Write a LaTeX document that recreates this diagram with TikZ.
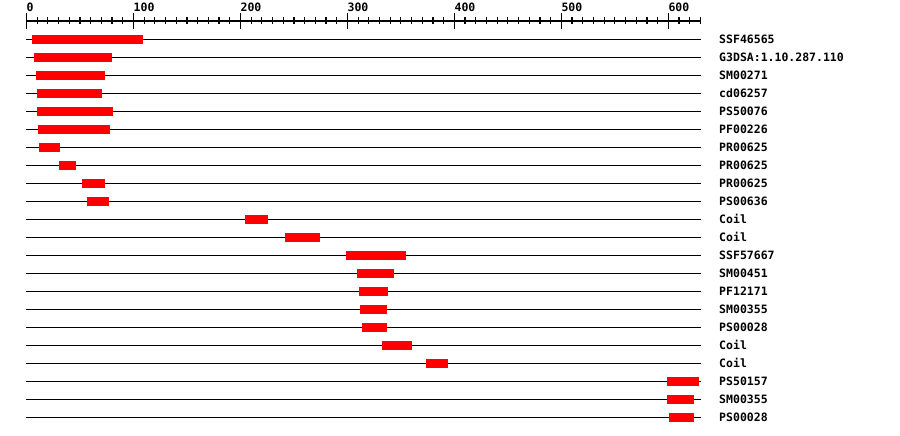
\documentclass[tikz,border=0pt]{standalone}
\usepackage{fontspec}
\setmonofont{DejaVu Sans Mono}
\usepackage{tikz}
\usetikzlibrary{positioning}
\usepackage{xcolor}
\definecolor{hitred}{RGB}{255,0,0}
\tikzset{
  track/.style={line width=1.2pt, draw=black},
  hitbar/.style={fill=hitred},
  dblabel/.style={anchor=base west, inner sep=0pt, font=\ttfamily\bfseries\fontsize{11.5}{12}\selectfont},
}

\begin{document}
\begin{tikzpicture}[x=1pt, y=-1pt]
  \useasboundingbox (0,0) rectangle (900,436);
  \begin{scope}[xshift=26.5pt, x=1.0697pt]
    % ruler
    \draw[track] (-0.5,21) -- (631,21);
    \foreach \t in {0,10,...,630} \draw[track] (\t,17.5) -- (\t,24.5);
    \foreach \t in {0,100,...,600} {
      \draw[track] (\t,13) -- (\t,29);
      \node[dblabel] (tick\t) at (\t,12) {\t};
    }
    % one track per hit
    \foreach \s/\e/\name [count=\i from 0] in {5/109/SSF46565, 7/80/G3DSA:1.10.287.110,
        9/73/SM00271, 10/71/cd06257, 10/81/PS50076, 11/78/PF00226, 12/31/PR00625,
        30/46/PR00625, 52/73/PR00625, 57/77/PS00636, 204/226/Coil, 242/274/Coil,
        299/355/SSF57667, 309/344/SM00451, 311/338/PF12171, 312/337/SM00355,
        314/337/PS00028, 332/360/Coil, 373/394/Coil, 599/629/PS50157,
        599/624/SM00355, 601/624/PS00028} {
      \pgfmathsetmacro\ry{39.4+18*\i}
      \draw[track] (-0.5,\ry) -- (631,\ry);
      \fill[hitbar] (\s,\ry-4.5) rectangle (\e,\ry+4.5);
      \node[dblabel] (lbl\i) at (647.4,\ry+3.8) {\name};
    }
  \end{scope}
\end{tikzpicture}
\end{document}
